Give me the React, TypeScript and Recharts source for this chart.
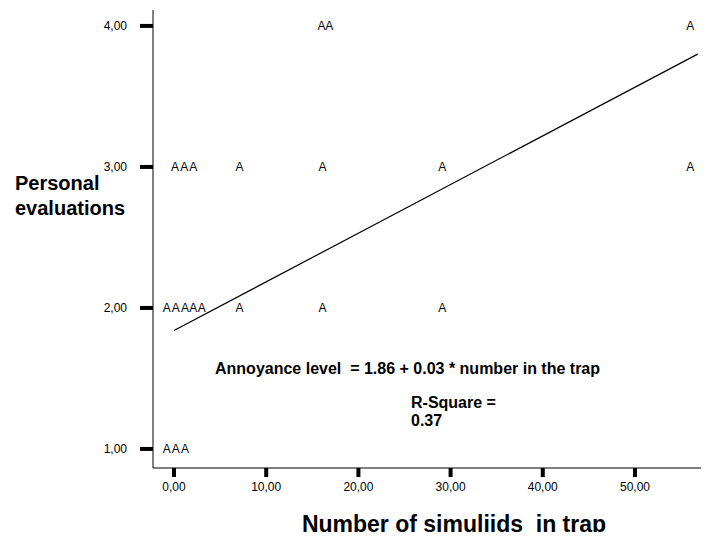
import React from 'react';
import { ScatterChart, Scatter, XAxis, YAxis } from 'recharts';

const FONT = '"Liberation Sans", Arial, sans-serif';

// Data (x = number of simuliids in trap, y = personal evaluation)
const row4X = [16.0, 16.85, 56.0];
const row3X = [0.1, 1.1, 2.1, 7.1, 16.1, 29.1, 56.0];
const row2X = [-0.8, 0.2, 1.2, 2.1, 3.0, 7.1, 16.1, 29.1];
const row1X = [-0.8, 0.2, 1.2];
const fitX = [0, 56.8];
const fitY = [1.84, 3.8];

const xTicks = [0, 10, 20, 30, 40, 50];
const yTicks = [1, 2, 3, 4];

const points = [
  ...row4X.map((x) => ({ x, y: 4 })),
  ...row3X.map((x) => ({ x, y: 3 })),
  ...row2X.map((x) => ({ x, y: 2 })),
  ...row1X.map((x) => ({ x, y: 1 })),
];
const fitLine = fitX.map((x, i) => ({ x, y: fitY[i] }));

const fmt = (v: number) => v.toFixed(2).replace('.', ',');

const LetterA = (props: any) => (
  <text
    x={props.cx}
    y={props.cy}
    textAnchor="middle"
    dominantBaseline="central"
    fontFamily={FONT}
    fontSize={12}
    fill="#000"
  >
    A
  </text>
);

const NoShape = () => <g />;

export default function App() {
  return (
    <div style={{ position: 'relative', width: 709, height: 540, margin: -8, background: '#fff' }}>
      <ScatterChart
        width={709}
        height={540}
        margin={{ top: 10, right: 0, bottom: 0, left: 93 }}
        style={{ fontFamily: FONT }}
      >
        <XAxis
          type="number"
          dataKey="x"
          domain={[-2.28, 58.03]}
          ticks={xTicks}
          tickFormatter={fmt}
          allowDataOverflow
          height={72}
          tickSize={9}
          tickMargin={5}
          axisLine={{ stroke: '#000', strokeWidth: 1 }}
          tickLine={{ stroke: '#000', strokeWidth: 4 }}
          tick={{ fill: '#000', fontSize: 12, fontFamily: FONT }}
        />
        <XAxis
          xAxisId="top"
          orientation="top"
          type="number"
          dataKey="x"
          domain={[-2.28, 58.03]}
          height={0}
          tick={false}
          tickLine={false}
          axisLine={{ stroke: '#000', strokeWidth: 1 }}
        />
        <YAxis
          type="number"
          dataKey="y"
          domain={[0.865, 4.113]}
          ticks={yTicks}
          tickFormatter={fmt}
          allowDataOverflow
          width={60}
          tickSize={13}
          tickMargin={13}
          axisLine={{ stroke: '#000', strokeWidth: 1 }}
          tickLine={{ stroke: '#000', strokeWidth: 4 }}
          tick={{ fill: '#000', fontSize: 12, fontFamily: FONT }}
        />
        <Scatter data={points} shape={LetterA} isAnimationActive={false} />
        <Scatter
          data={fitLine}
          line={{ stroke: '#000', strokeWidth: 1.2 }}
          shape={NoShape}
          isAnimationActive={false}
        />
      </ScatterChart>
      <svg
        width={709}
        height={540}
        style={{ position: 'absolute', left: 0, top: 0, pointerEvents: 'none' }}
      >
        <g fontFamily={FONT} fontWeight="bold" fill="#000">
          <text x={15} y={190} fontSize={20}>Personal</text>
          <text x={15} y={215} fontSize={20}>evaluations</text>
          <text x={454} y={532} fontSize={23} textAnchor="middle" style={{ whiteSpace: 'pre' }}>
            Number of simuliids  in trap
          </text>
          <text x={215} y={374} fontSize={16} style={{ whiteSpace: 'pre' }}>
            Annoyance level  = 1.86 + 0.03 * number in the trap
          </text>
          <text x={411} y={408} fontSize={16}>R-Square =</text>
          <text x={411} y={426} fontSize={16}>0.37</text>
        </g>
      </svg>
    </div>
  );
}
